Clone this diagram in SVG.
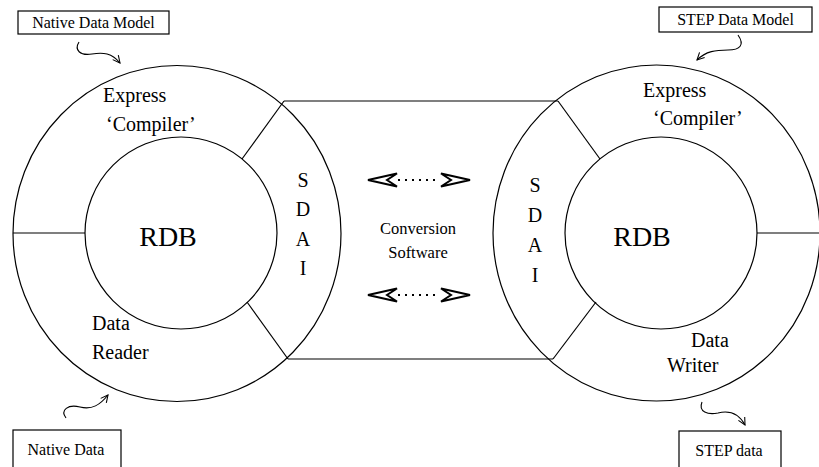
<svg xmlns="http://www.w3.org/2000/svg" width="819" height="467" viewBox="0 0 819 467">
<style>
.ln{fill:none;stroke:#000;stroke-width:1.2}
.t{font-family:"Liberation Serif","Times New Roman",serif;fill:#000}
.big{font-size:20px}
.rdb{font-size:28px}
.lbl{font-size:16px}
.mid{font-size:16.5px}
.box{fill:#fff;stroke:#000;stroke-width:1.2}
.wav{fill:none;stroke:#000;stroke-width:1.1;marker-end:url(#vh)}
.dbl{fill:#fff;stroke:#000;stroke-width:2;stroke-linejoin:miter}
.dot{fill:none;stroke:#000;stroke-width:2;stroke-dasharray:2 5}
</style>
<defs>
<marker id="vh" viewBox="0 0 10 10" refX="9" refY="5" markerWidth="9" markerHeight="9" markerUnits="userSpaceOnUse" orient="auto">
<path d="M1,1 L9,5 L1,9" fill="none" stroke="#000" stroke-width="1.2"/>
</marker>
</defs>
<rect width="819" height="467" fill="#fff"/>

<g id="connectors">
<line class="ln" x1="284" y1="101" x2="558" y2="101"/>
<line class="ln" x1="288" y1="359" x2="553" y2="359"/>
<path class="wav" d="M79,42 C74,50 80,56 92,54 C103,52 112,53 120,63"/>
<path class="wav" d="M738,35 C745,45 740,50 728,50 C716,50 706,51 697,60"/>
<path class="wav" d="M66,418 C60,410 68,404 80,407 C92,410 100,405 108,395"/>
<path class="wav" d="M702,402 C698,412 708,415 718,413 C730,410 739,414 745,425"/>
</g>

<g id="left-ring">
<ellipse class="ln" cx="177" cy="233.5" rx="164" ry="168"/>
<line class="ln" x1="13" y1="233" x2="85" y2="233"/>
<line class="ln" x1="284" y1="101" x2="242" y2="159"/>
<line class="ln" x1="247" y1="302" x2="288" y2="359"/>
<text class="t big" x="103" y="102">Express</text>
<text class="t big" x="106" y="131">‘Compiler’</text>
<text class="t big" x="92" y="330">Data</text>
<text class="t big" x="92" y="359">Reader</text>
<g text-anchor="middle">
<text class="t big" x="303" y="187">S</text>
<text class="t big" x="303" y="216">D</text>
<text class="t big" x="303" y="246">A</text>
<text class="t big" x="303" y="275">I</text>
</g>
</g>
<g id="left-rdb">
<circle class="ln" cx="181" cy="233" r="96"/>
<text class="t rdb" x="168" y="246" text-anchor="middle">RDB</text>
</g>

<g id="right-ring">
<ellipse class="ln" cx="656.5" cy="233" rx="163.5" ry="168"/>
<line class="ln" x1="757" y1="233" x2="819" y2="233"/>
<line class="ln" x1="558" y1="101" x2="600" y2="159"/>
<line class="ln" x1="596" y1="302" x2="553" y2="359"/>
<text class="t big" x="643" y="97">Express</text>
<text class="t big" x="653" y="125">‘Compiler’</text>
<text class="t big" x="691" y="347">Data</text>
<text class="t big" x="667" y="372">Writer</text>
<g text-anchor="middle">
<text class="t big" x="535" y="192">S</text>
<text class="t big" x="535" y="222">D</text>
<text class="t big" x="535" y="252">A</text>
<text class="t big" x="535" y="282">I</text>
</g>
</g>
<g id="right-rdb">
<circle class="ln" cx="661" cy="233" r="96"/>
<text class="t rdb" x="642" y="246" text-anchor="middle">RDB</text>
</g>

<g id="conversion">
<text class="t mid" x="418" y="234" text-anchor="middle">Conversion</text>
<text class="t mid" x="418" y="258" text-anchor="middle">Software</text>
<line class="dot" x1="398" y1="180" x2="440" y2="180"/>
<polygon class="dbl" points="368,180 397,173.5 387,180 397,186.5"/>
<polygon class="dbl" points="470,180 441,173.5 451,180 441,186.5"/>
<line class="dot" x1="398" y1="295" x2="440" y2="295"/>
<polygon class="dbl" points="368,295 397,288.5 387,295 397,301.5"/>
<polygon class="dbl" points="470,295 441,288.5 451,295 441,301.5"/>
</g>

<g id="native-data-model">
<rect class="box" x="18" y="11" width="151" height="23"/>
<text class="t lbl" x="93.5" y="28" text-anchor="middle">Native Data Model</text>
</g>
<g id="step-data-model">
<rect class="box" x="659" y="7" width="153" height="25"/>
<text class="t lbl" x="735.5" y="25" text-anchor="middle">STEP Data Model</text>
</g>
<g id="native-data">
<rect class="box" x="13" y="430" width="108" height="45"/>
<text class="t lbl" x="66" y="455" text-anchor="middle">Native Data</text>
</g>
<g id="step-data">
<rect class="box" x="679" y="431" width="102" height="45"/>
<text class="t lbl" x="729" y="456" text-anchor="middle">STEP data</text>
</g>
</svg>
